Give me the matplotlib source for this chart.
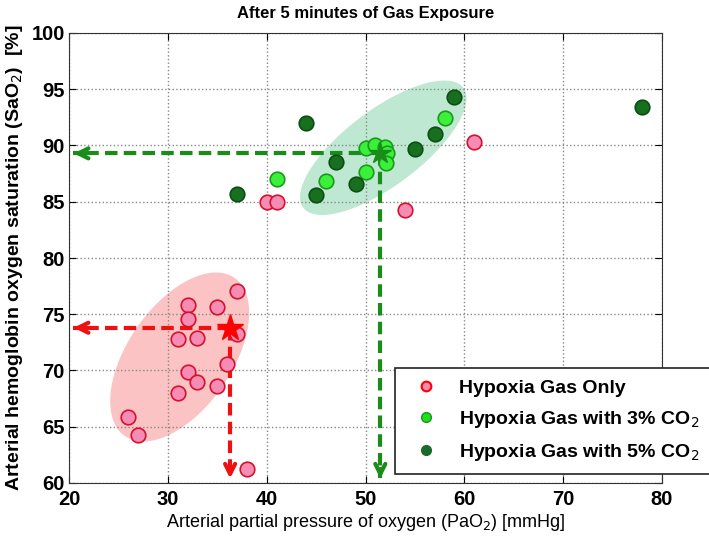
import numpy as np
import matplotlib.pyplot as plt
from matplotlib.lines import Line2D

# Hypoxia gas only
red_x = [26, 27, 31, 31, 32, 32, 32, 33, 33, 35, 35, 36, 37, 37, 38, 40, 41, 54, 61]
red_y = [65.9, 64.3, 68.0, 72.8, 75.8, 74.6, 69.9, 72.9, 69.0, 75.6, 68.6, 70.6, 77.1, 73.2, 61.2, 85.0, 85.0, 84.3, 90.3]

# Hypoxia gas with 3% CO2
lg_x = [41, 46, 50, 50, 51, 52, 52.2, 52.1, 58]
lg_y = [87.0, 86.8, 89.8, 87.6, 90.0, 89.9, 89.3, 88.4, 92.4]

# Hypoxia gas with 5% CO2
dg_x = [37, 44, 45, 47, 49, 55, 57, 59, 78]
dg_y = [85.7, 92.0, 85.6, 88.5, 86.6, 89.7, 91.0, 94.3, 93.4]

# mean points (star)
red_star = (36.3, 73.8)
green_star = (51.5, 89.3)

plt.rcParams['font.family'] = ['Liberation Sans', 'DejaVu Sans']

fig = plt.figure(figsize=(7.09, 5.38), dpi=100)
ax = fig.add_axes([69/709, 55/538, 593/709, 450/538])


def ellipse(c, u, v, color):
    t = np.linspace(0, 2*np.pi, 200)
    ex = c[0] + u[0]*np.cos(t) + v[0]*np.sin(t)
    ey = c[1] + u[1]*np.cos(t) + v[1]*np.sin(t)
    ax.fill(ex, ey, color=color, lw=0, zorder=1)


ellipse((31.2, 71.2), (5.6, 7.0), (4.25, -2.72), '#fbc3c3')
ellipse((51.8, 89.8), (8.1, 5.33), (2.3, -2.7), '#bfe8d2')

# dashed guide arrows
def guide(star, color):
    ax.plot([star[0], 20.4], [star[1], star[1]], ls='--', color=color, lw=3, zorder=2, dashes=(3, 1.5))
    ax.plot([star[0], star[0]], [star[1], 60.4], ls='--', color=color, lw=3, zorder=2, dashes=(3, 1.5))
    ax.annotate('', xy=(20.2, star[1]), xytext=(22, star[1]),
                arrowprops=dict(arrowstyle='->', color=color, lw=3, mutation_scale=18), zorder=2)
    ax.annotate('', xy=(star[0], 60.15), xytext=(star[0], 61.5),
                arrowprops=dict(arrowstyle='->', color=color, lw=3, mutation_scale=18), zorder=2)


guide(red_star, '#ee1111')
guide(green_star, '#1a8c1a')

ax.scatter(red_x, red_y, s=110, facecolor='#f48cb4', edgecolor='#d8102c', lw=1.2, zorder=3)
ax.scatter(lg_x, lg_y, s=110, facecolor='#3af03a', edgecolor='#1a9a1a', lw=1.2, zorder=3)
ax.scatter(dg_x, dg_y, s=110, facecolor='#17701f', edgecolor='#0d4d14', lw=1.2, zorder=3)

ax.plot(*red_star, marker='*', ms=20, color='#ff0000', zorder=4)
ax.plot(*green_star, marker='*', ms=16, color='#1a8c1a', zorder=4)

ax.set_xlim(20, 80)
ax.set_ylim(60, 100)
ax.set_xticks(range(20, 81, 10))
ax.set_yticks(range(60, 101, 5))
ax.grid(True, ls=':', color='#888888', lw=1)
ax.tick_params(direction='in', top=True, right=True, length=5, labelsize=14.5, pad=3)
ax.tick_params(axis='x', pad=5)
for lab in ax.get_xticklabels() + ax.get_yticklabels():
    lab.set_fontweight('bold')
for s in ax.spines.values():
    s.set_color('#333333')

ax.set_title('After 5 minutes of Gas Exposure', fontsize=12, fontweight='bold', pad=11)
ax.set_xlabel('Arterial partial pressure of oxygen (PaO$_2$) [mmHg]', fontsize=13, labelpad=2)
ax.set_ylabel('Arterial hemoglobin oxygen saturation (SaO$_2$)  [%]', fontsize=14,
              fontweight='bold')
ax.yaxis.set_label_coords(-44/593, 0.5)

handles = [
    Line2D([], [], ls='none', marker='o', ms=7, mfc='#f48cb4', mec='#ff0000', mew=1.5),
    Line2D([], [], ls='none', marker='o', ms=7, mfc='#22dd22', mec='#119911', mew=1),
    Line2D([], [], ls='none', marker='o', ms=7, mfc='#1a6b2a', mec='#1a6b2a', mew=1),
]
labels = ['Hypoxia Gas Only', 'Hypoxia Gas with 3% CO$_2$', 'Hypoxia Gas with 5% CO$_2$']
leg = fig.legend(handles, labels, loc='upper left', bbox_to_anchor=(395/709, 1 - 368/538),
                 frameon=True, fancybox=False, edgecolor='#222222', framealpha=1,
                 prop={'weight': 'bold', 'size': 14},
                 borderpad=0.6, labelspacing=0.6, handletextpad=0.7, borderaxespad=0)
leg.get_frame().set_linewidth(1.2)

fig.savefig('out.png', dpi=100)
